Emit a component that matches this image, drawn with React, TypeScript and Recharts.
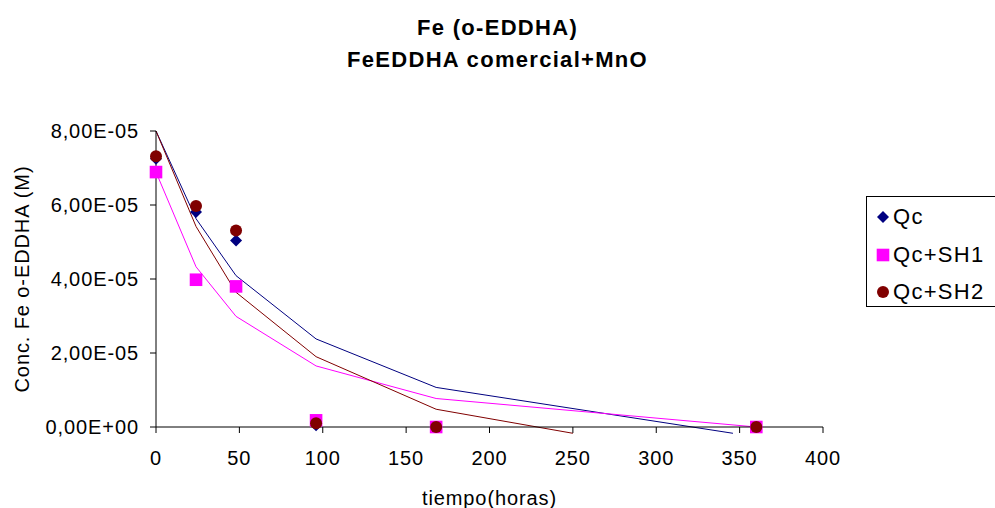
import React from "react";
import {
  ComposedChart,
  Line,
  Scatter,
  XAxis,
  YAxis,
} from "recharts";

// measured points (hours, mol/L)
const TIMES = [0, 24, 48, 96, 168, 360];
const QC = [7.25e-5, 5.81e-5, 5.04e-5, 0.05e-5, 0, 0];
const SH1 = [6.89e-5, 3.98e-5, 3.8e-5, 0.18e-5, 0, 0];
const SH2 = [7.32e-5, 5.97e-5, 5.31e-5, 0.1e-5, 0, 0];

// fitted curves as drawn on the sheet
const QC_FIT_X = [0, 24, 48, 96, 168, 346];
const QC_FIT = [8.0e-5, 5.63e-5, 4.09e-5, 2.38e-5, 1.07e-5, -0.17e-5];
const SH1_FIT_X = [0, 24, 48, 96, 168, 360];
const SH1_FIT = [6.89e-5, 4.33e-5, 2.99e-5, 1.65e-5, 0.77e-5, 0];
const SH2_FIT_X = [0, 24, 48, 96, 168, 250];
const SH2_FIT = [8.0e-5, 5.42e-5, 3.64e-5, 1.9e-5, 0.48e-5, -0.17e-5];

const X_TICKS = [0, 50, 100, 150, 200, 250, 300, 350, 400];
const Y_TICKS = [0, 2e-5, 4e-5, 6e-5, 8e-5];

const SERIES_NAMES = ["Qc", "Qc+SH1", "Qc+SH2"];
const COLORS = ["#000080", "#ff00ff", "#800000"];

const FONT = "'Liberation Sans', Arial, sans-serif";

const zip = (xs: number[], ys: number[]) => xs.map((x, i) => ({ x, y: ys[i] }));

function sci(v: number) {
  const [m, e] = v.toExponential(2).split("e");
  const sign = e.startsWith("-") ? "-" : "+";
  const digits = e.replace(/[+-]/, "").padStart(2, "0");
  return `${m.replace(".", ",")}E${sign}${digits}`;
}

function Diamond(props: any) {
  const { cx, cy, fill } = props;
  const r = 6;
  return <polygon points={`${cx},${cy - r} ${cx + r},${cy} ${cx},${cy + r} ${cx - r},${cy}`} fill={fill} />;
}

function Square(props: any) {
  const { cx, cy, fill } = props;
  const h = 6.3;
  return <rect x={cx - h} y={cy - h} width={h * 2} height={h * 2} fill={fill} />;
}

function Dot(props: any) {
  const { cx, cy, fill } = props;
  return <circle cx={cx} cy={cy} r={6} fill={fill} />;
}

const SHAPES = [Diamond, Square, Dot];

function LegendIcon({ idx }: { idx: number }) {
  const Shape = SHAPES[idx];
  return (
    <svg width={14} height={14} style={{ display: "block" }}>
      <Shape cx={7} cy={7} fill={COLORS[idx]} />
    </svg>
  );
}

export default function App() {
  const points = [zip(TIMES, QC), zip(TIMES, SH1), zip(TIMES, SH2)];
  const fits = [zip(QC_FIT_X, QC_FIT), zip(SH1_FIT_X, SH1_FIT), zip(SH2_FIT_X, SH2_FIT)];
  const tickStyle = { fill: "#000", fontSize: 20, fontFamily: FONT, letterSpacing: 0.9 };

  return (
    <div
      style={{
        position: "absolute",
        left: 0,
        top: 0,
        width: 995,
        height: 508,
        overflow: "hidden",
        background: "#fff",
        fontFamily: FONT,
      }}
    >
      {/* the sheet lets the fitted curves run a little under the x axis */}
      <style>{".recharts-wrapper [clip-path] { clip-path: none !important; }"}</style>
      <div
        style={{
          position: "absolute",
          left: 0,
          top: 12.4,
          width: 995,
          textAlign: "center",
          fontWeight: "bold",
          fontSize: 22,
          lineHeight: "32px",
          letterSpacing: 1.3,
          color: "#000",
        }}
      >
        Fe (o-EDDHA)
        <br />
        FeEDDHA comercial+MnO
      </div>

      <ComposedChart width={995} height={508} margin={{ top: 131, right: 172, bottom: 0, left: 0 }}>
        <XAxis
          dataKey="x"
          type="number"
          domain={[0, 400]}
          ticks={X_TICKS}
          interval={0}
          stroke="#000"
          tickSize={6}
          tickMargin={18}
          tick={tickStyle}
          height={81}
          label={{
            value: "tiempo(horas)",
            position: "center",
            dy: 30,
            fill: "#000",
            fontSize: 20,
            fontFamily: FONT,
            letterSpacing: 0.9,
          }}
        />
        <YAxis
          dataKey="y"
          type="number"
          domain={[0, 8e-5]}
          allowDataOverflow
          ticks={Y_TICKS}
          interval={0}
          tickFormatter={sci}
          stroke="#000"
          tickSize={6}
          tickMargin={11}
          tick={tickStyle}
          width={156}
          label={{
            value: "Conc. Fe o-EDDHA (M)",
            angle: -90,
            position: "center",
            dx: -56,
            fill: "#000",
            fontSize: 20,
            fontFamily: FONT,
            letterSpacing: 0.9,
          }}
        />
        {fits.map((d, i) => (
          <Line
            key={`fit-${i}`}
            data={d}
            dataKey="y"
            type="linear"
            stroke={COLORS[i]}
            strokeWidth={1}
            dot={false}
            activeDot={false}
            legendType="none"
            isAnimationActive={false}
          />
        ))}
        {points.map((d, i) => (
          <Scatter
            key={`pts-${i}`}
            name={SERIES_NAMES[i]}
            data={d}
            fill={COLORS[i]}
            shape={SHAPES[i]}
            isAnimationActive={false}
          />
        ))}
      </ComposedChart>

      <div
        style={{
          position: "absolute",
          left: 866,
          top: 196,
          width: 140,
          height: 111,
          border: "1px solid #000",
          background: "#fff",
          boxSizing: "border-box",
        }}
      >
        {SERIES_NAMES.map((name, i) => (
          <div
            key={name}
            style={{
              position: "absolute",
              left: 9,
              top: 7 + i * 37.5,
              height: 26,
              display: "flex",
              alignItems: "center",
              fontSize: 22,
              letterSpacing: 1.3,
              color: "#000",
              whiteSpace: "nowrap",
            }}
          >
            <LegendIcon idx={i} />
            <span style={{ marginLeft: 3 }}>{name}</span>
          </div>
        ))}
      </div>
    </div>
  );
}
